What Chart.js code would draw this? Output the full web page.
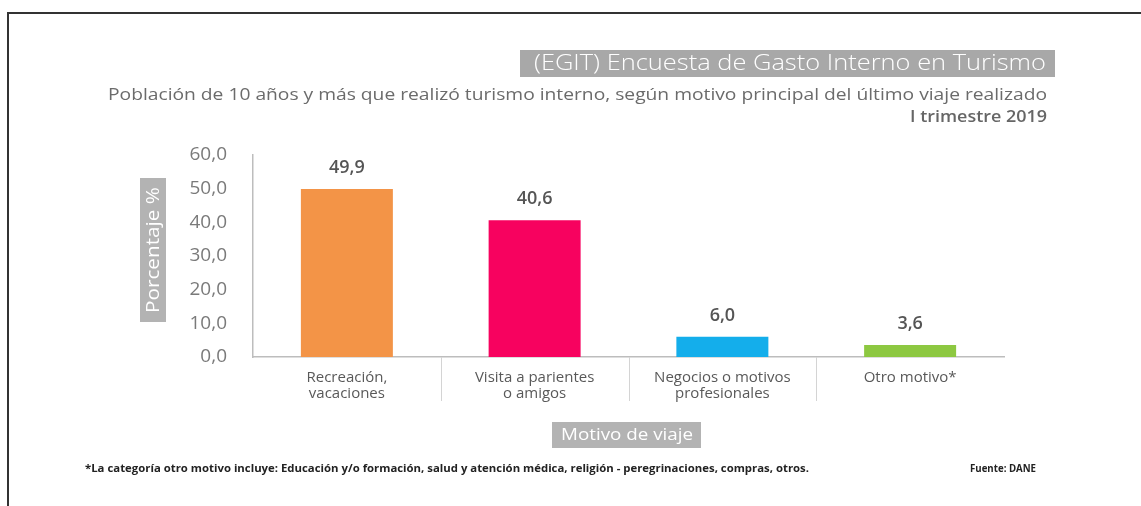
<!DOCTYPE html>
<html>
<head>
<meta charset="utf-8">
<script src="https://cdn.jsdelivr.net/npm/chart.js@4/dist/chart.umd.min.js"></script>
<style>
  html, body { margin: 0; padding: 0; background: #fff; }
  #wrap { position: relative; width: 1141px; height: 506px; }
</style>
</head>
<body>
<div id="wrap"><canvas id="chart" width="1141" height="506"></canvas></div>
<script>
// data
const categories = [
  ['Recreación,', 'vacaciones'],
  ['Visita a parientes', 'o amigos'],
  ['Negocios o motivos', 'profesionales'],
  ['Otro motivo*']
];
const porcentaje = [49.9, 40.6, 6.0, 3.6];
const barColors = ['#F39447', '#F7025F', '#14AEEB', '#8DC841'];
const yTicks = [0, 10, 20, 30, 40, 50, 60];

const titleText = '(EGIT) Encuesta de Gasto Interno en Turismo';
const subtitleText = 'Población de 10 años y más que realizó turismo interno, según motivo principal del último viaje realizado';
const periodText = 'I trimestre 2019';
const yTitle = 'Porcentaje %';
const xTitle = 'Motivo de viaje';
const noteText = '*La categoría otro motivo incluye: Educación y/o formación, salud y atención médica, religión - peregrinaciones, compras, otros.';
const sourceText = 'Fuente: DANE';

const FONT = '"Open Sans", "DejaVu Sans", sans-serif';
const fmt = v => v.toFixed(1).replace('.', ',');

// draws text squeezed/stretched to a given width
function fitText(ctx, text, x, y, width, align) {
  const w = ctx.measureText(text).width;
  const s = width / w;
  ctx.save();
  ctx.textAlign = 'left';
  let left = x;
  if (align === 'right') left = x - width;
  if (align === 'center') left = x - width / 2;
  ctx.translate(left, y);
  ctx.scale(s, 1);
  ctx.fillText(text, 0, 0);
  ctx.restore();
}

const decorations = {
  id: 'decorations',
  beforeDraw(chart) {
    const ctx = chart.ctx;
    ctx.save();
    // frame
    ctx.strokeStyle = '#333';
    ctx.lineWidth = 2;
    ctx.beginPath();
    ctx.moveTo(8, 506);
    ctx.lineTo(8, 13);
    ctx.lineTo(1141, 13);
    ctx.stroke();

    // title with grey box
    ctx.fillStyle = '#A8A8A8';
    ctx.fillRect(520, 50, 535, 27);
    ctx.fillStyle = '#fff';
    ctx.font = '300 22px ' + FONT;
    ctx.textBaseline = 'middle';
    fitText(ctx, titleText, 1046, 64, 512, 'right');

    // subtitle lines
    ctx.fillStyle = '#6b6b6b';
    ctx.font = '16px ' + FONT;
    fitText(ctx, subtitleText, 1047, 95, 939, 'right');
    ctx.fillStyle = '#666';
    ctx.font = '600 17px ' + FONT;
    fitText(ctx, periodText, 1047, 117, 137, 'right');

    // y axis title box
    ctx.fillStyle = '#B3B3B3';
    ctx.fillRect(140, 178, 26, 144);
    ctx.save();
    ctx.translate(153, 250);
    ctx.rotate(-Math.PI / 2);
    ctx.fillStyle = '#fff';
    ctx.font = '19px ' + FONT;
    fitText(ctx, yTitle, 0, 1, 126, 'center');
    ctx.restore();

    // x axis title box
    ctx.fillStyle = '#B3B3B3';
    ctx.fillRect(552, 422, 149, 26);
    ctx.fillStyle = '#fff';
    ctx.font = '17px ' + FONT;
    fitText(ctx, xTitle, 627, 435, 132, 'center');

    // footnotes
    ctx.fillStyle = '#222';
    ctx.font = '700 11px ' + FONT;
    fitText(ctx, noteText, 85, 469, 724, 'left');
    fitText(ctx, sourceText, 1036, 469, 66, 'right');
    ctx.restore();
  },
  afterDraw(chart) {
    const ctx = chart.ctx;
    const x = chart.scales.x;
    const area = chart.chartArea;
    ctx.save();
    // separators between categories, below the axis
    ctx.strokeStyle = '#d4d4d4';
    ctx.lineWidth = 1;
    for (let i = 1; i < categories.length; i++) {
      const px = Math.round((x.getPixelForValue(i - 1) + x.getPixelForValue(i)) / 2) + 0.5;
      ctx.beginPath();
      ctx.moveTo(px, area.bottom);
      ctx.lineTo(px, area.bottom + 44);
      ctx.stroke();
    }
    // value labels
    const meta = chart.getDatasetMeta(0);
    ctx.fillStyle = '#555';
    ctx.font = '600 18px ' + FONT;
    ctx.textAlign = 'center';
    ctx.textBaseline = 'middle';
    meta.data.forEach((bar, i) => {
      ctx.fillText(fmt(porcentaje[i]), bar.x, bar.y - 21);
    });
    ctx.restore();
  }
};

new Chart(document.getElementById('chart'), {
  type: 'bar',
  data: {
    labels: categories,
    datasets: [{
      data: porcentaje,
      backgroundColor: barColors,
      borderWidth: 0,
      barPercentage: 0.49,
      categoryPercentage: 1
    }]
  },
  options: {
    responsive: false,
    animation: false,
    events: [],
    layout: { padding: { top: 155, right: 137, bottom: 0, left: 0 } },
    plugins: {
      legend: { display: false },
      tooltip: { enabled: false }
    },
    scales: {
      y: {
        min: 0,
        max: 60,
        afterFit: s => { s.width = 253; },
        afterBuildTicks: s => { s.ticks = yTicks.map(v => ({ value: v })); },
        grid: { display: false },
        border: { display: true, color: '#BDBDBD', width: 1.5 },
        ticks: {
          padding: 18,
          color: '#7a7a7a',
          font: { family: FONT, size: 19 },
          callback: v => fmt(v)
        }
      },
      x: {
        afterFit: s => { s.height = 506 - 357; },
        grid: { display: true, drawOnChartArea: false, drawTicks: false, color: 'rgba(0,0,0,0)' },
        border: { display: true, color: '#BDBDBD', width: 1.5 },
        ticks: {
          padding: 12,
          color: '#595959',
          maxRotation: 0,
          autoSkip: false,
          font: { family: FONT, size: 15, lineHeight: 1.1 }
        }
      }
    }
  },
  plugins: [decorations]
});
</script>
</body>
</html>
